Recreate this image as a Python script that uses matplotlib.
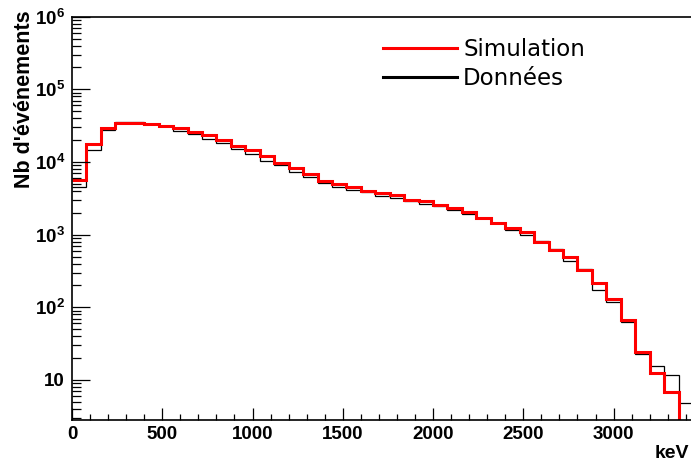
import numpy as np
import matplotlib
matplotlib.use("Agg")
import matplotlib.pyplot as plt
from matplotlib.lines import Line2D
from matplotlib.ticker import FixedLocator, FixedFormatter, MultipleLocator, LogLocator, NullFormatter

# --- fonts (ROOT-like bold helvetica for axes) ---
AXIS_FONT = ["Liberation Sans", "DejaVu Sans"]
plt.rcParams["mathtext.fontset"] = "custom"
plt.rcParams["mathtext.rm"] = "Liberation Sans:bold"
plt.rcParams["mathtext.bf"] = "Liberation Sans:bold"
plt.rcParams["mathtext.it"] = "Liberation Sans:bold"

# --- data: counts per 80 keV bin, starting at 0 keV ---
BIN_WIDTH = 80
simulation = [5660, 17870, 29380, 34440, 34440, 33360, 31620, 29380, 25650, 23770,
              20100, 16780, 14630, 12220, 9790, 8270, 6840, 5480, 4930, 4570,
              3990, 3750, 3540, 2970, 2890, 2550, 2310, 2050, 1700, 1460,
              1245, 1092, 800, 621, 493, 327, 216, 130, 66.5, 24.3,
              12.3, 6.9, 0]
donnees = [4490, 14500, 27860, 35890, 35500, 33360, 31030, 26990, 24310, 20940,
           18110, 15250, 12770, 10330, 9010, 7330, 6160, 5190, 4530, 4120,
           3830, 3460, 3150, 2910, 2640, 2500, 2170, 1940, 1700, 1460,
           1170, 1000, 818, 635, 441, 337, 173, 117, 63.8, 22.6,
           15.8, 11.9, 4.9]

x_ticks = [0, 500, 1000, 1500, 2000, 2500, 3000]
y_ticks = [10, 1e2, 1e3, 1e4, 1e5, 1e6]
y_tick_labels = ["10", r"$10^{2}$", r"$10^{3}$", r"$10^{4}$", r"$10^{5}$", r"$10^{6}$"]

W, H = 691, 466
fig = plt.figure(figsize=(W / 100, H / 100), dpi=100)
fig.patch.set_facecolor("white")
ax = fig.add_axes([72 / W, 1 - 420 / H, (W - 72) / W, (420 - 16.7) / H])

edges = np.arange(len(donnees) + 1) * BIN_WIDTH
ax.stairs(donnees, edges, baseline=None, color="black", linewidth=0.9)
ax.stairs(simulation, edges, baseline=None, color="#ff0000", linewidth=2.2)

ax.set_yscale("log")
ax.set_xlim(0, 3429)
ax.set_ylim(2.815, 1e6)

# ticks
ax.xaxis.set_major_locator(FixedLocator(x_ticks))
ax.xaxis.set_minor_locator(MultipleLocator(100))
ax.yaxis.set_major_locator(FixedLocator(y_ticks))
ax.yaxis.set_major_formatter(FixedFormatter(y_tick_labels))
ax.yaxis.set_minor_locator(LogLocator(base=10, subs=np.arange(2, 10)))
ax.yaxis.set_minor_formatter(NullFormatter())
ax.tick_params(axis="x", which="major", direction="in", length=9, width=0.9, pad=4, top=False)
ax.tick_params(axis="x", which="minor", direction="in", length=4.5, width=0.9, top=False)
ax.tick_params(axis="y", which="major", direction="in", length=13, width=0.9, pad=5, right=False)
ax.tick_params(axis="y", which="minor", direction="in", length=6.5, width=0.9, right=False)
for lab in ax.get_xticklabels() + ax.get_yticklabels():
    lab.set_family(AXIS_FONT)
    lab.set_fontweight("bold")
    lab.set_fontsize(13.5)

for side in ["left", "bottom", "top"]:
    ax.spines[side].set_linewidth(1.2)
    ax.spines[side].set_color("black")
ax.spines["right"].set_visible(False)

fig.text(24 / W, 1 - 10 / H, "Nb d'événements", rotation=90, ha="center", va="top",
         family=AXIS_FONT, fontweight="bold", fontsize=15.5)
fig.text(689 / W, 1 - 453 / H, "keV", ha="right", va="center",
         family=AXIS_FONT, fontweight="bold", fontsize=14)

handles = [Line2D([], [], color="#ff0000", linewidth=2.2),
           Line2D([], [], color="black", linewidth=2.2)]
ax.legend(handles, ["Simulation", "Données"], loc="upper left",
          bbox_to_anchor=(383 / W, 1 - 38 / H), bbox_transform=fig.transFigure,
          frameon=False, prop={"family": "DejaVu Sans", "size": 16.5},
          handlelength=3.23, handletextpad=0.27, labelspacing=0.26,
          borderpad=0, borderaxespad=0)

fig.savefig("out.png", dpi=100)
